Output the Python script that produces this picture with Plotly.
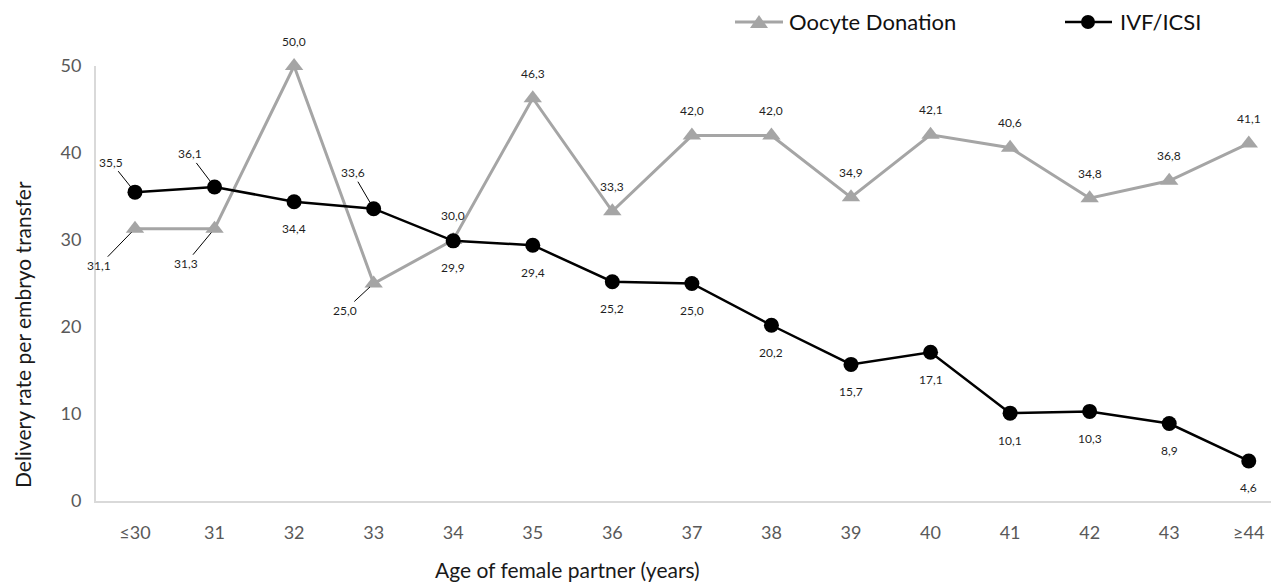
import plotly.graph_objects as go

categories = ["≤30", "31", "32", "33", "34", "35", "36", "37", "38", "39", "40", "41", "42", "43", "≥44"]
oocyte_values = [31.1, 31.3, 50.0, 25.0, 30.0, 46.3, 33.3, 42.0, 42.0, 34.9, 42.1, 40.6, 34.8, 36.8, 41.1]
ivf_values = [35.5, 36.1, 34.4, 33.6, 29.9, 29.4, 25.2, 25.0, 20.2, 15.7, 17.1, 10.1, 10.3, 8.9, 4.6]
# drawn position of the first two oocyte points (plotted at equal height in the source)
oocyte_plot = [31.3, 31.3] + oocyte_values[2:]
y_ticks = [0, 10, 20, 30, 40, 50]

GRAY = "#A5A5A5"
BLACK = "#000000"
FONT = "Lato"
LBL = "#1f1f1f"

OFF = 8  # page body margin
W, H = 1279 - OFF, 582 - OFF
ML, MR, MT = 96 - OFF, 0, 66 - OFF
MB = H - (501 - OFF)
PW, PH = W - ML - MR, H - MT - MB

def px(x):
    # screen x -> paper
    return (x - OFF - ML) / PW

def py(y):
    # screen y -> paper
    return (H - MB - (y - OFF)) / PH

x_idx = list(range(len(categories)))

fig = go.Figure()
fig.add_trace(go.Scatter(
    x=x_idx, y=oocyte_plot, mode="lines+markers",
    line=dict(color=GRAY, width=3),
    marker=dict(symbol="triangle-up", size=16, color=GRAY),
    cliponaxis=False, showlegend=False, name="Oocyte Donation"))
fig.add_trace(go.Scatter(
    x=x_idx, y=ivf_values, mode="lines+markers",
    line=dict(color=BLACK, width=2.5),
    marker=dict(symbol="circle", size=15, color=BLACK),
    cliponaxis=False, showlegend=False, name="IVF/ICSI"))

annotations = []
# leader-line labels (index: (ax, ay))
oo_leader = {0: (-36, 37), 1: (-29, 35), 3: (-29, 27)}
ivf_leader = {0: (-24, -30), 1: (-25, -33), 3: (-21, -36)}

def fmt(v):
    return f"{v:.1f}".replace(".", ",")

for i, (vp, v) in enumerate(zip(oocyte_plot, oocyte_values)):
    if i in oo_leader:
        ax, ay = oo_leader[i]
        annotations.append(dict(x=i, y=vp, xref="x", yref="y", text=fmt(v), showarrow=True,
                                arrowhead=0, arrowwidth=1, arrowcolor="#000", ax=ax, ay=ay,
                                standoff=5, font=dict(family=FONT, size=12, color=LBL)))
    else:
        annotations.append(dict(x=i, y=vp, xref="x", yref="y", text=fmt(v), showarrow=False,
                                yshift=25, font=dict(family=FONT, size=12, color=LBL)))

for i, v in enumerate(ivf_values):
    if i in ivf_leader:
        ax, ay = ivf_leader[i]
        annotations.append(dict(x=i, y=v, xref="x", yref="y", text=fmt(v), showarrow=True,
                                arrowhead=0, arrowwidth=1, arrowcolor="#000", ax=ax, ay=ay,
                                standoff=6, font=dict(family=FONT, size=12, color=LBL)))
    else:
        annotations.append(dict(x=i, y=v, xref="x", yref="y", text=fmt(v), showarrow=False,
                                yshift=-27, font=dict(family=FONT, size=12, color=LBL)))

# axis titles
annotations.append(dict(x=px(567), y=py(569), xref="paper", yref="paper",
                        xanchor="center", yanchor="middle",
                        text="Age of female partner (years)", showarrow=False,
                        font=dict(family=FONT, size=21, color="#1a1a1a")))
annotations.append(dict(x=px(22), y=py(335), xref="paper", yref="paper",
                        xanchor="center", yanchor="middle",
                        text="Delivery rate per embryo transfer", showarrow=False, textangle=-90,
                        font=dict(family=FONT, size=21, color="#1a1a1a")))

# legend (manual)
shapes = []
LY = 22
ly = py(LY)
shapes.append(dict(type="line", xref="paper", yref="paper", x0=px(735), x1=px(783), y0=ly, y1=ly,
                   line=dict(color=GRAY, width=3)))
tx = 759
shapes.append(dict(type="path", xref="paper", yref="paper",
                   path=f"M {px(tx-9)},{py(LY+6)} L {px(tx+9)},{py(LY+6)} L {px(tx)},{py(LY-7)} Z",
                   fillcolor=GRAY, line=dict(width=0)))
annotations.append(dict(x=px(787), y=ly, xref="paper", yref="paper", xanchor="left", yanchor="middle",
                        text="Oocyte Donation", showarrow=False,
                        font=dict(family=FONT, size=22, color="#111")))
shapes.append(dict(type="line", xref="paper", yref="paper", x0=px(1065), x1=px(1112), y0=ly, y1=ly,
                   line=dict(color=BLACK, width=2.5)))
cx = 1088
shapes.append(dict(type="circle", xref="paper", yref="paper",
                   x0=px(cx-7), x1=px(cx+7), y0=py(LY+7), y1=py(LY-7),
                   fillcolor=BLACK, line=dict(width=0)))
annotations.append(dict(x=px(1118), y=ly, xref="paper", yref="paper", xanchor="left", yanchor="middle",
                        text="IVF/ICSI", showarrow=False,
                        font=dict(family=FONT, size=22, color="#111")))

fig.update_layout(
    width=W, height=H,
    margin=dict(l=ML, r=MR, t=MT, b=MB),
    paper_bgcolor="white", plot_bgcolor="white",
    annotations=annotations, shapes=shapes,
    xaxis=dict(range=[-0.49, 14.38], tickmode="array", tickvals=x_idx, ticktext=categories,
               showgrid=False, zeroline=False, showline=True, linecolor="#D9D9D9", linewidth=2,
               ticks="", ticklabelstandoff=14,
               tickfont=dict(family=FONT, size=18, color="#595959")),
    yaxis=dict(range=[0, 50], tickvals=y_ticks, showgrid=False, zeroline=False,
               showline=True, linecolor="#D9D9D9", linewidth=2, ticks="", ticklabelstandoff=9,
               tickfont=dict(family=FONT, size=18, color="#595959")),
)

fig.write_html("out.html")
